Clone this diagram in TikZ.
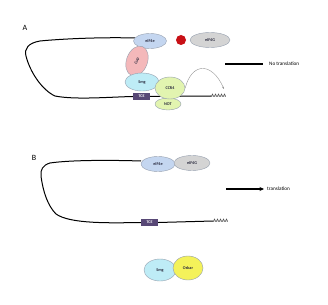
\documentclass[tikz,border=0pt]{standalone}
\usepackage{fontspec}
\setsansfont{Carlito}
\usetikzlibrary{arrows.meta,shapes.geometric}

\definecolor{eife}{RGB}{196,214,240}
\definecolor{eifg}{RGB}{212,212,212}
\definecolor{cupfill}{RGB}{244,184,186}
\definecolor{smgfill}{RGB}{190,236,246}
\definecolor{ccrfill}{RGB}{226,244,176}
\definecolor{oskfill}{RGB}{244,242,90}
\definecolor{tcefill}{RGB}{88,72,118}
\definecolor{stopred}{RGB}{200,16,22}

\begin{document}
\begin{tikzpicture}[x=1pt,y=-1pt,
  prot/.style={ellipse,draw={rgb,255:red,150;green,160;blue,175},line width=0.4pt,inner sep=0pt,
    font=\sffamily\bfseries\fontsize{4.2}{5}\selectfont,text={rgb,255:red,40;green,40;blue,60}},
  tcebox/.style={rectangle,fill=tcefill,draw=none,minimum width=17pt,minimum height=6.5pt,inner sep=0pt,
    font=\sffamily\bfseries\fontsize{4}{5}\selectfont,text=white},
  rna/.style={draw=black,line width=1pt},
  panel/.style={inner sep=0pt,font=\sffamily\fontsize{8}{9}\selectfont},
  note/.style={inner sep=0pt,anchor=west,font=\sffamily\fontsize{5.2}{6}\selectfont},
  tail/.style={inner sep=0pt,anchor=west,font=\sffamily\fontsize{5.2}{6}\selectfont}]
\path[use as bounding box] (0,0) rectangle (328,304);
\path[fill=white] (0,0) rectangle (328,304);

% panel A: repressed
\node[panel] (lblA) at (25,28) {A};
\node[tcebox] (tceA) at (141.5,96.5) {TCE};
\node[tail] (polyA) at (211,96) {AAAAA};
\draw[rna] (150,41) ++(-15,-3) coordinate (startA)
  .. controls (100,37) and (60,39) .. (40,41)
  .. controls (28,43) and (24,49) .. (26,56)
  .. controls (30,72) and (42,90) .. (55,96)
  .. controls (75,100) and (110,97) .. (tceA.west);
\draw[rna] (tceA.east) -- (polyA.west);
\node[prot,fill=eife,minimum width=33pt,minimum height=15pt] (eA) at (150,41) {eIF4e};
\fill[stopred] (181,40) circle[radius=5pt];
\node[prot,fill=eifg,minimum width=40pt,minimum height=15pt] (gA) at (210,40) {eIF4G};
\node[prot,fill=cupfill,minimum width=31pt,minimum height=21pt,rotate=70] (cupA) at (137,61) {Cup};
\node[prot,fill=smgfill,minimum width=34pt,minimum height=18pt] (smgA) at (142,82) {Smg};
\node[tcebox] at (tceA) {TCE};
\node[prot,fill=ccrfill,minimum width=26pt,minimum height=12pt] (notA) at (168,104) {NOT};
\node[prot,fill=ccrfill,minimum width=30pt,minimum height=22pt] (ccrA) at (170,88) {CCR4};
\draw[line width=0.4pt,draw={rgb,255:red,150;green,150;blue,150},-{Stealth[length=2.4pt,width=2pt]}]
  (ccrA.east) .. controls (192,62) and (212,62) .. (224,89);
\draw[line width=1.2pt] (225,64) -- (263,64) coordinate (endA);
\node[note] (noA) at (269,64) {No translation};

% panel B: translated
\node[panel] (lblB) at (34,158) {B};
\node[tcebox] (tceB) at (149.5,222.5) {TCE};
\node[tail] (polyB) at (213,221) {AAAAA};
\draw[rna] (158,164) ++(-17,-3) coordinate (startB)
  .. controls (110,160) and (70,160) .. (50,163)
  .. controls (43,165) and (40,170) .. (41,176)
  .. controls (43,192) and (48,206) .. (56,214)
  .. controls (70,224) and (110,223) .. (tceB.west);
\draw[rna] (tceB.east) -- (polyB.west);
\node[tcebox] at (tceB) {TCE};
\node[prot,fill=eife,minimum width=34pt,minimum height=15pt] (eB) at (158,164) {eIF4e};
\node[prot,fill=eifg,minimum width=36pt,minimum height=15pt] (gB) at (192,163) {eIF4G};
\draw[line width=1.2pt,-{Stealth[length=4.5pt,width=4pt]}] (226,189) coordinate (beginB) -- (264,189);
\node[note] (yesB) at (267,189) {translation};
\node[prot,fill=smgfill,minimum width=32pt,minimum height=22pt] (smgB) at (160,270) {Smg};
\node[prot,fill=oskfill,minimum width=30pt,minimum height=24pt] (oskB) at (188,268) {Oskar};
\end{tikzpicture}
\end{document}
